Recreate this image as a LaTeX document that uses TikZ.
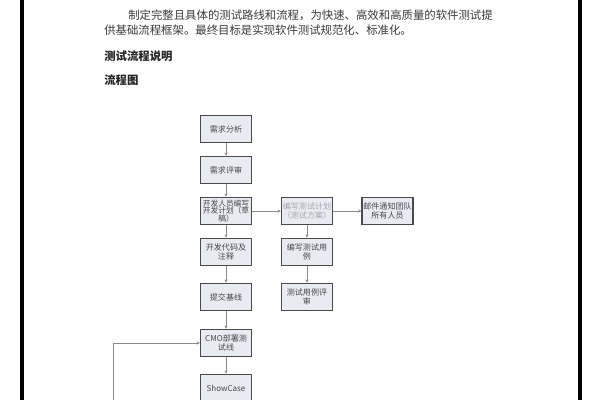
\documentclass[tikz,border=0pt]{standalone}
\usepackage{fontspec}
\setmainfont{Noto Sans CJK SC}
\usetikzlibrary{arrows.meta}
\definecolor{boxfill}{HTML}{E9EBF3}
\definecolor{boxline}{HTML}{4A4A4A}
\definecolor{conn}{HTML}{8A8A8A}
\definecolor{bodytext}{HTML}{3A3A3A}
\tikzset{
  flowbox/.style={draw=boxline, line width=1.1pt, fill=boxfill,
    minimum width=1.27cm, minimum height=0.68cm, inner sep=0.3pt,
    text width=1.24cm, align=center, text=black!72,
    font=\fontsize{5.7}{6.3}\selectfont},
  tightbox/.style={flowbox, font=\fontsize{5.5}{5.6}\selectfont, inner sep=0pt},
  conline/.style={draw=conn, line width=0.45pt},
  conarrow/.style={conline, -{Stealth[length=2.2pt,width=2.2pt]}},
  bodyline/.style={anchor=west, inner sep=0pt, text=bodytext, font=\fontsize{8.1}{9}\selectfont},
  headline/.style={anchor=west, inner sep=0pt, text=black!85, font=\fontsize{8.1}{9}\selectfont\bfseries},
  pageedge/.style={draw=black, line width=2.2pt}
}
\begin{document}
\begin{tikzpicture}[x=0.025cm,y=-0.025cm]
\useasboundingbox[fill=white] (0,0) rectangle (600,400);
% page edges
\coordinate (lt) at (22,0); \coordinate (lb) at (22,400);
\coordinate (rt) at (580,0); \coordinate (rb) at (580,400);
\draw[pageedge] (lt) -- (lb);
\draw[pageedge] (rt) -- (rb);
% text
\node[bodyline] (t1) at (128,15.5) {制定完整且具体的测试路线和流程，为快速、高效和高质量的软件测试提};
\node[bodyline] (t2) at (104,30.5) {供基础流程框架。最终目标是实现软件测试规范化、标准化。};
\node[headline] (h1) at (104,56.5) {测试流程说明};
\node[headline] (h2) at (104,80.5) {流程图};
% boxes
\node[flowbox] (a1) at (226,129) {需求分析};
\node[flowbox] (a2) at (226,170) {需求评审};
\node[tightbox] (a3) at (226,211) {开发人员编写\\开发计划（草\\稿）};
\node[flowbox] (a4) at (226,252) {开发代码及\\注释};
\node[flowbox] (a5) at (226,297) {提交基线};
\node[flowbox] (a6) at (226,343) {CMO部署测\\试线};
\node[flowbox] (a7) at (226,388) {ShowCase};
\node[flowbox, text=black!35] (b1) at (307,211) {编写测试计划\\（测试方案）};
\node[flowbox] (b2) at (307,252) {编写测试用\\例};
\node[flowbox] (b3) at (307,297) {测试用例评\\审};
\node[flowbox] (c1) at (387.5,211) {邮件通知团队\\所有人员};
% connectors
\draw[conarrow] (a1) -- (a2);
\draw[conarrow] (a2) -- (a3);
\draw[conarrow] (a3) -- (a4);
\draw[conarrow] (a4) -- (a5);
\draw[conarrow] (a5) -- (a6);
\draw[conarrow] (a6) -- (a7);
\draw[conarrow] (a3) -- (b1);
\draw[conarrow] (b1) -- (c1);
\draw[conarrow] (b1) -- (b2);
\draw[conarrow] (b2) -- (b3);
\coordinate (fb) at (113.5,400);
\draw[conarrow] (fb) |- (a6.west);
\end{tikzpicture}
\end{document}
